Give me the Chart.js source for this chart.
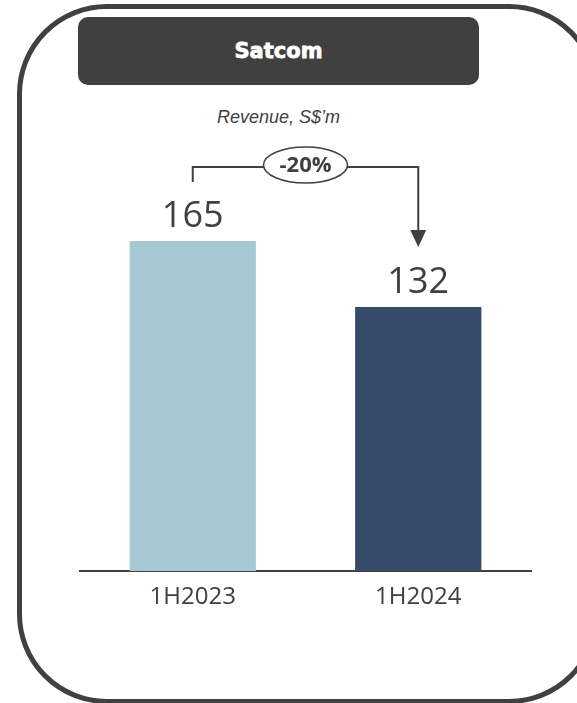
<!DOCTYPE html>
<html>
<head>
<meta charset="utf-8">
<script src="https://cdn.jsdelivr.net/npm/chart.js@4.4.1/dist/chart.umd.min.js"></script>
<style>
  html, body { margin: 0; padding: 0; background: #fff; overflow: hidden; }
  body { width: 577px; height: 703px; position: relative; }
  .frame {
    position: absolute; left: 17px; top: 4px; width: 572px; height: 690px;
    border: 5px solid #404040; border-radius: 90px;
  }
  .header {
    position: absolute; left: 78px; top: 17px; width: 401px; height: 68px;
    background: #404040; border-radius: 10px;
    color: #fff; font: bold 21px 'DejaVu Sans', sans-serif;
    -webkit-text-stroke: 0.8px #fff;
    display: flex; align-items: center; justify-content: center;
  }
  .subtitle {
    position: absolute; left: 78px; width: 401px; top: 107px; text-align: center;
    color: #404040; font: italic 18px 'Liberation Sans', Arial, sans-serif;
  }
  canvas { position: absolute; left: 0; top: 0; }
</style>
</head>
<body>
<div class="frame"></div>
<div class="header">Satcom</div>
<div class="subtitle">Revenue, S$’m</div>
<canvas id="revenueChart" width="577" height="703"></canvas>
<script>
const periods = ['1H2023', '1H2024'];
const revenue = [165, 132];
const barColors = ['#a5c8d3', '#374c6a'];
const changeLabel = '-20%';

const ink = '#404040';

// value labels above each bar
const valueLabels = {
    id: 'valueLabels',
    afterDatasetsDraw(chart) {
        const ctx = chart.ctx;
        const bars = chart.getDatasetMeta(0).data;
        ctx.save();
        ctx.fillStyle = ink;
        ctx.font = "36px 'Open Sans', sans-serif";
        ctx.textAlign = 'center';
        ctx.textBaseline = 'alphabetic';
        bars.forEach((bar, i) => {
            ctx.fillText(String(revenue[i]), bar.x, bar.y - 14);
        });
        ctx.restore();
    }
};

// bracket with arrow and % change bubble
const changeArrow = {
    id: 'changeArrow',
    afterDatasetsDraw(chart) {
        const ctx = chart.ctx;
        const y = chart.scales.y;
        const bars = chart.getDatasetMeta(0).data;
        const x1 = bars[0].x, x2 = bars[1].x;
        const top1 = y.getPixelForValue(revenue[0]);
        const top2 = y.getPixelForValue(revenue[1]);
        const lineY = top1 - 74;
        const startY = top1 - 59;
        const tipY = top2 - 60;

        ctx.save();
        ctx.strokeStyle = ink;
        ctx.fillStyle = ink;
        ctx.lineWidth = 2;
        ctx.beginPath();
        ctx.moveTo(x1, startY);
        ctx.lineTo(x1, lineY);
        ctx.lineTo(x2, lineY);
        ctx.lineTo(x2, tipY - 16);
        ctx.stroke();

        ctx.beginPath();
        ctx.moveTo(x2 - 8, tipY - 17);
        ctx.lineTo(x2 + 8, tipY - 17);
        ctx.lineTo(x2, tipY);
        ctx.closePath();
        ctx.fill();

        const cx = (x1 + x2) / 2;
        ctx.beginPath();
        ctx.ellipse(cx, lineY - 2, 42, 18, 0, 0, Math.PI * 2);
        ctx.fillStyle = '#fff';
        ctx.fill();
        ctx.lineWidth = 1.5;
        ctx.stroke();

        ctx.fillStyle = ink;
        ctx.font = "bold 22px 'Open Sans', sans-serif";
        ctx.textAlign = 'center';
        ctx.textBaseline = 'middle';
        ctx.fillText(changeLabel, cx, lineY - 1);
        ctx.restore();
    }
};

new Chart(document.getElementById('revenueChart').getContext('2d'), {
    type: 'bar',
    data: {
        labels: periods,
        datasets: [{
            data: revenue,
            backgroundColor: barColors,
            borderWidth: 0,
            barPercentage: 0.56,
            categoryPercentage: 1
        }]
    },
    options: {
        responsive: false,
        animation: false,
        layout: { padding: { left: 80, right: 46, top: 171, bottom: 82 } },
        plugins: {
            legend: { display: false },
            tooltip: { enabled: false }
        },
        scales: {
            x: {
                grid: { display: false, drawTicks: false },
                border: { display: true, color: ink, width: 2 },
                ticks: {
                    color: ink,
                    padding: 12,
                    font: { family: "'Open Sans', sans-serif", size: 24 }
                },
                afterFit(scale) { scale.height = 50; }
            },
            y: {
                display: false,
                min: 0,
                max: 200
            }
        }
    },
    plugins: [valueLabels, changeArrow]
});
</script>
</body>
</html>
